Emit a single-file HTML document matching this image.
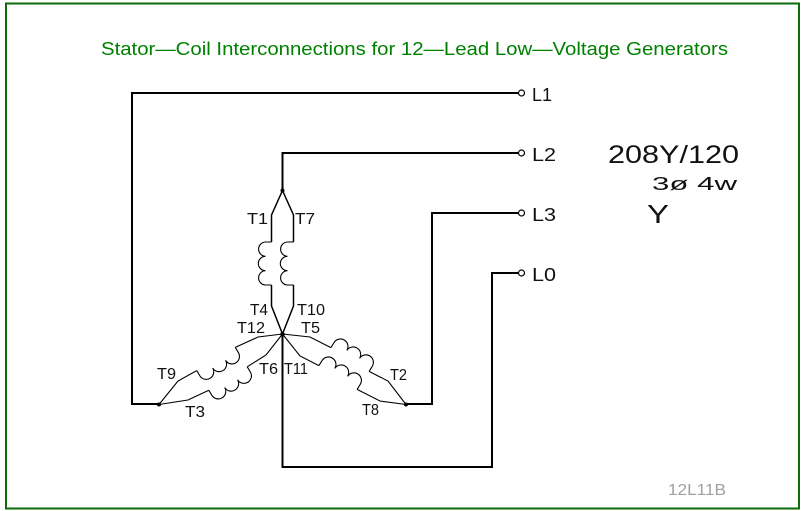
<!DOCTYPE html>
<html>
<head>
<meta charset="utf-8">
<style>
  html, body { margin: 0; padding: 0; background: #ffffff; }
  body { width: 803px; height: 511px; overflow: hidden; }
  svg { display: block; }
  text { font-family: "Liberation Sans", "DejaVu Sans", sans-serif; }
</style>
</head>
<body>
<svg width="803" height="511" viewBox="0 0 803 511" xmlns="http://www.w3.org/2000/svg">
  <rect x="0" y="0" width="803" height="511" fill="#ffffff"/>
  <!-- border -->
  <rect x="6" y="3.5" width="793" height="505" fill="none" stroke="#0a6e0a" stroke-width="2"/>

  <!-- title -->
  <text x="101" y="55" font-size="18" fill="#008000" textLength="627" lengthAdjust="spacingAndGlyphs">Stator—Coil Interconnections for 12—Lead Low—Voltage Generators</text>

  <!-- main wires -->
  <g fill="none" stroke="#000" stroke-width="2" stroke-linejoin="miter">
    <path d="M132,93 H518"/>
    <path d="M132,92 V404 H159"/>
    <path d="M282.5,190.5 V153 H518"/>
    <path d="M406,404 H432 V213 H518"/>
    <path d="M282.5,334 V467 H492 V273 H518"/>
  </g>

  <!-- terminal circles -->
  <g fill="#fff" stroke="#000" stroke-width="1.2">
    <circle cx="521.5" cy="93" r="3"/>
    <circle cx="521.5" cy="153" r="3"/>
    <circle cx="521.5" cy="213" r="3"/>
    <circle cx="521.5" cy="273" r="3"/>
  </g>

  <!-- vertical leads -->
  <g fill="none" stroke="#000" stroke-width="1.5">
    <path d="M282.5,190.5 L271.5,215 L271.5,242 M271.5,285 L271.5,306 L282.5,334"/>
    <path d="M282.5,190.5 L293.5,215 L293.5,242 M293.5,285 L293.5,306 L282.5,334"/>
  </g>

  <!-- diagonal leads -->
  <g fill="none" stroke="#000" stroke-width="1.1">
    <path d="M282.5,334 L258,337 L235.3,347.4 M196.7,370.6 L178,381 L159,404.5"/>
    <path d="M282.5,334 L266,355 L247.2,366.8 M208.8,390.2 L188,400 L159,404.5"/>
    <path d="M282.5,334 L310,337 L330.9,347.6 M369.1,371.4 L388,381 L406,404.5"/>
    <path d="M282.5,334 L300,356 L318.9,365.6 M357.1,389.4 L380,401 L406,404.5"/>
  </g>

  <!-- coils -->
  <g fill="none" stroke="#000" stroke-width="1.1">
    <path transform="translate(271.5,263.5) rotate(90)" d="M-21.5,0 L-21.5,6 A7.17,7.17 0 0 0 -7.17,6 A7.17,7.17 0 0 0 7.17,6 A7.17,7.17 0 0 0 21.5,6 L21.5,0"/>
    <path transform="translate(293.5,263.5) rotate(90)" d="M-21.5,0 L-21.5,6 A7.17,7.17 0 0 0 -7.17,6 A7.17,7.17 0 0 0 7.17,6 A7.17,7.17 0 0 0 21.5,6 L21.5,0"/>
    <path transform="translate(216,359) rotate(-31)" d="M-22.5,0 L-22.5,6 A7.5,7.5 0 0 0 -7.5,6 A7.5,7.5 0 0 0 7.5,6 A7.5,7.5 0 0 0 22.5,6 L22.5,0"/>
    <path transform="translate(228,378.5) rotate(-31.2)" d="M-22.5,0 L-22.5,6 A7.5,7.5 0 0 0 -7.5,6 A7.5,7.5 0 0 0 7.5,6 A7.5,7.5 0 0 0 22.5,6 L22.5,0"/>
    <path transform="translate(350,359.5) rotate(-148)" d="M-22.5,0 L-22.5,6 A7.5,7.5 0 0 0 -7.5,6 A7.5,7.5 0 0 0 7.5,6 A7.5,7.5 0 0 0 22.5,6 L22.5,0"/>
    <path transform="translate(338,377.5) rotate(-148)" d="M-22.5,0 L-22.5,6 A7.5,7.5 0 0 0 -7.5,6 A7.5,7.5 0 0 0 7.5,6 A7.5,7.5 0 0 0 22.5,6 L22.5,0"/>
  </g>

  <!-- nodes -->
  <g fill="#000">
    <circle cx="282.5" cy="190.5" r="2"/>
    <circle cx="282.5" cy="334" r="2.2"/>
    <circle cx="159" cy="404.5" r="2"/>
    <circle cx="406" cy="404.5" r="2"/>
  </g>

  <!-- terminal labels -->
  <g fill="#111" font-size="16">
    <text x="247" y="224" textLength="21" lengthAdjust="spacingAndGlyphs">T1</text>
    <text x="295" y="224" textLength="20" lengthAdjust="spacingAndGlyphs">T7</text>
    <text x="250" y="315" textLength="18" lengthAdjust="spacingAndGlyphs">T4</text>
    <text x="297" y="315" textLength="28" lengthAdjust="spacingAndGlyphs">T10</text>
    <text x="237" y="333" textLength="28" lengthAdjust="spacingAndGlyphs">T12</text>
    <text x="301" y="333" textLength="19" lengthAdjust="spacingAndGlyphs">T5</text>
    <text x="157" y="379" textLength="19" lengthAdjust="spacingAndGlyphs">T9</text>
    <text x="259" y="374" textLength="19" lengthAdjust="spacingAndGlyphs">T6</text>
    <text x="284" y="374" textLength="24" lengthAdjust="spacingAndGlyphs">T11</text>
    <text x="390" y="380" textLength="17" lengthAdjust="spacingAndGlyphs">T2</text>
    <text x="185" y="417" textLength="20" lengthAdjust="spacingAndGlyphs">T3</text>
    <text x="362" y="415" textLength="17" lengthAdjust="spacingAndGlyphs">T8</text>
  </g>

  <!-- line labels -->
  <g fill="#111" font-size="18">
    <text x="532" y="101" textLength="20" lengthAdjust="spacingAndGlyphs">L1</text>
    <text x="532" y="161" textLength="24" lengthAdjust="spacingAndGlyphs">L2</text>
    <text x="532" y="221" textLength="24" lengthAdjust="spacingAndGlyphs">L3</text>
    <text x="532" y="281" textLength="24" lengthAdjust="spacingAndGlyphs">L0</text>
  </g>

  <!-- rating -->
  <text x="608" y="163" font-size="25" fill="#111" textLength="131" lengthAdjust="spacingAndGlyphs">208Y/120</text>
  <text x="652" y="190" font-size="18" fill="#111" textLength="85" lengthAdjust="spacingAndGlyphs">3ø  4w</text>
  <text x="647" y="223" font-size="26" fill="#111" textLength="22" lengthAdjust="spacingAndGlyphs">Y</text>

  <!-- drawing id -->
  <text x="668" y="495" font-size="16" fill="#a0a0a0" textLength="58" lengthAdjust="spacingAndGlyphs">12L11B</text>
</svg>
</body>
</html>
